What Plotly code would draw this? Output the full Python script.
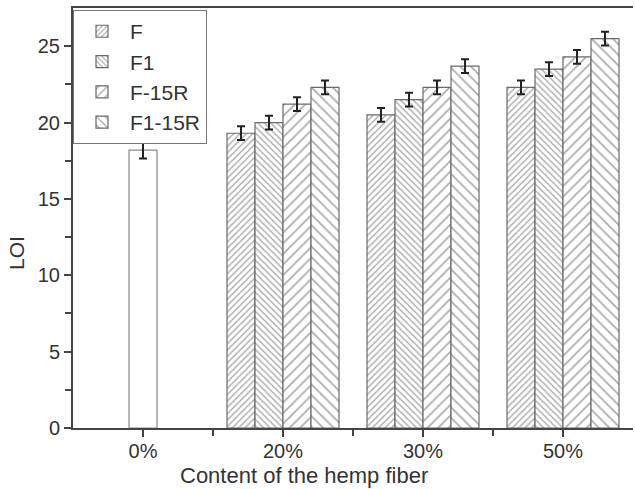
import plotly.graph_objects as go

categories = ["0%", "20%", "30%", "50%"]
pure_value = [18.2]
pure_err = [0.55]
series_names = ["F", "F1", "F-15R", "F1-15R"]
F_vals = [19.3, 20.5, 22.3]
F1_vals = [20.0, 21.5, 23.5]
F15R_vals = [21.2, 22.3, 24.3]
F115R_vals = [22.3, 23.7, 25.5]
F_err = [0.45, 0.45, 0.45]
F1_err = [0.45, 0.45, 0.45]
F15R_err = [0.45, 0.45, 0.45]
F115R_err = [0.45, 0.45, 0.45]

series_vals = [F_vals, F1_vals, F15R_vals, F115R_vals]
series_errs = [F_err, F1_err, F15R_err, F115R_err]
shapes = ["/", "\\", "/", "\\"]
sizes = [4.5, 4.5, 7.5, 7.5]
solid = [0.32, 0.32, 0.22, 0.22]

fig = go.Figure()
fig.add_trace(go.Bar(
    x=[0], y=pure_value, width=0.2, offset=-0.1, showlegend=False,
    marker=dict(color="white", line=dict(color="#8a8a8a", width=1.2)),
    error_y=dict(type="data", array=pure_err, color="#222", thickness=2, width=4),
))
bw = 0.2
for i, name in enumerate(series_names):
    fig.add_trace(go.Bar(
        x=[1, 2, 3], y=series_vals[i], name=name, width=bw, offset=-0.4 + i * bw,
        marker=dict(color="white", line=dict(color="#6a6a6a", width=1.2),
                    pattern=dict(shape=shapes[i], size=sizes[i], solidity=solid[i],
                                 fgcolor="#555", bgcolor="white", fillmode="overlay")),
        error_y=dict(type="data", array=series_errs[i], color="#222", thickness=2, width=4),
    ))

font_fam = "Liberation Sans, Arial, sans-serif"
fig.update_layout(
    width=635, height=489,
    margin=dict(l=73, r=2, t=8, b=61),
    paper_bgcolor="white", plot_bgcolor="white",
    barmode="overlay",
    font=dict(family=font_fam, size=20, color="#333"),
    showlegend=True,
    legend=dict(x=0, y=0.995, xanchor="left", yanchor="top",
                bgcolor="white", bordercolor="#777", borderwidth=1,
                font=dict(size=21, color="#333"), tracegroupgap=2,
                itemwidth=46),
    xaxis=dict(range=[-0.5, 3.5], tickvals=[0, 1, 2, 3], ticktext=categories,
               showline=True, linecolor="#444", linewidth=2, mirror=True,
               ticks="outside", ticklen=7, tickwidth=2, tickcolor="#444",
               ticklabelstandoff=-3,
               minor=dict(tickvals=[0.5, 1.5, 2.5], ticks="outside", ticklen=6,
                          tickwidth=2, tickcolor="#444"),
               showgrid=False, zeroline=False, tickfont=dict(size=20)),
    yaxis=dict(range=[0, 27.5], tickvals=[0, 5, 10, 15, 20, 25],
               showline=True, linecolor="#444", linewidth=2,
               ticks="outside", ticklen=7, tickwidth=2, tickcolor="#444",
               minor=dict(tickvals=[2.5, 7.5, 12.5, 17.5, 22.5], ticks="outside",
                          ticklen=6, tickwidth=2, tickcolor="#444"),
               showgrid=False, zeroline=False, tickfont=dict(size=20)),
    annotations=[
        dict(text="Content of the hemp fiber", xref="paper", yref="paper",
             x=(304 - 73) / 560, y=-(475 - 428) / 420, xanchor="center", yanchor="middle",
             showarrow=False, font=dict(size=22, color="#333")),
        dict(text="LOI", xref="paper", yref="paper", textangle=-90,
             x=-(73 - 17) / 560, y=(428 - 253) / 420, xanchor="center", yanchor="middle",
             showarrow=False, font=dict(size=21, color="#333")),
    ],
)

fig.write_html("out.html")
